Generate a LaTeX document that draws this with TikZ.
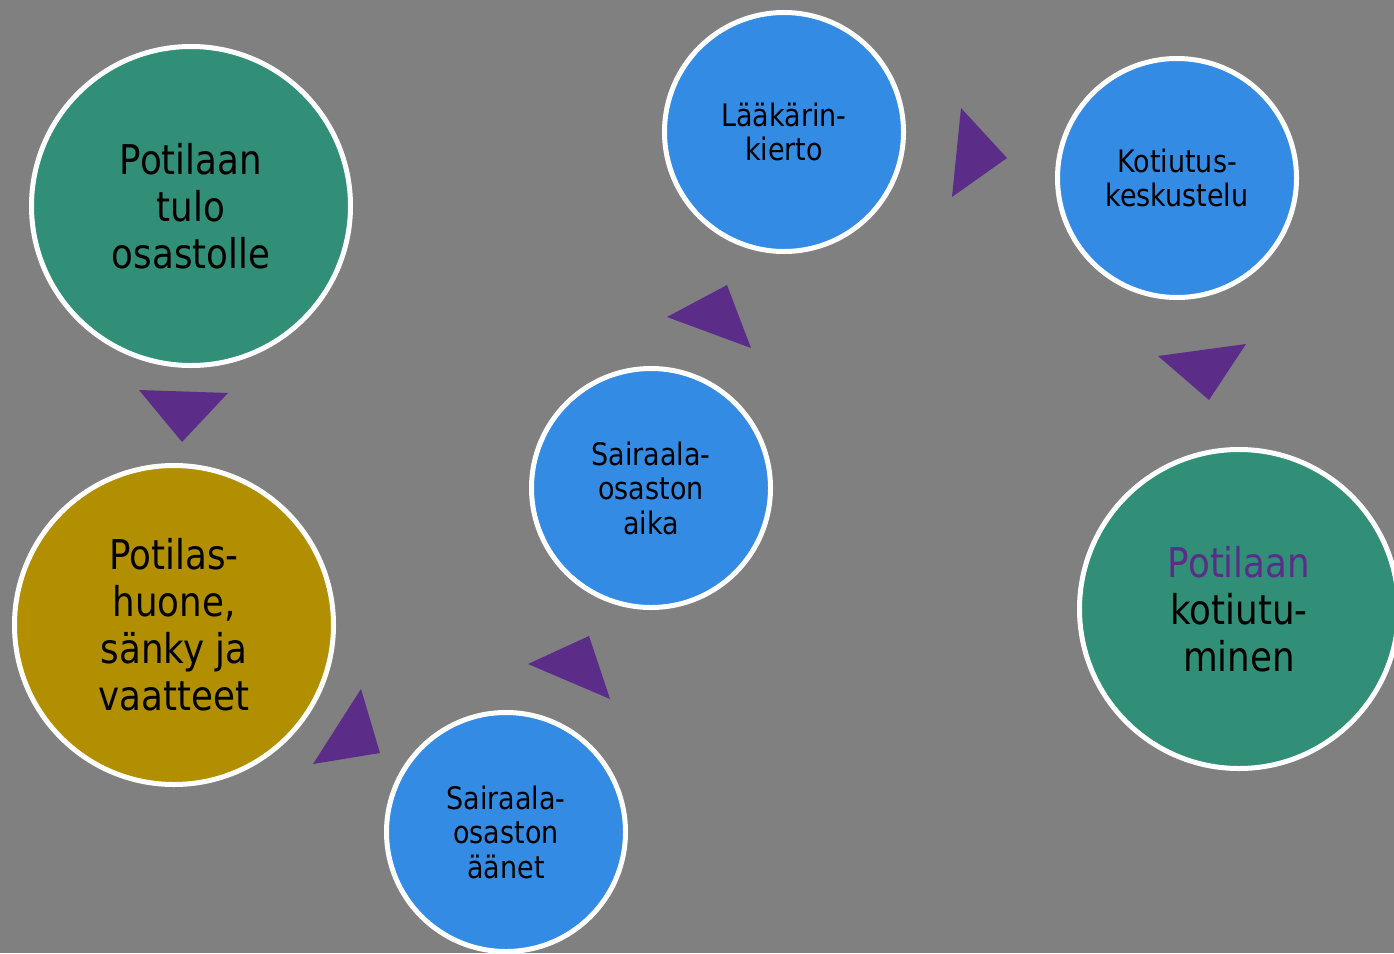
\documentclass[tikz,border=0pt]{standalone}
\usepackage{fontspec}
\setmainfont[FakeStretch=0.87]{DejaVu Sans}
\definecolor{bggray}{HTML}{808080}
\definecolor{tealgreen}{HTML}{318E77}
\definecolor{ochre}{HTML}{B28F00}
\definecolor{skyblue}{HTML}{348BE4}
\definecolor{violet}{HTML}{5B2D89}
\begin{document}
\begin{tikzpicture}[x=1pt,y=-1pt,
  bubble/.style={circle, draw=white, line width=5pt, inner sep=0pt, align=center, text=black},
  bigbubble/.style={bubble, minimum size=319pt, font=\fontsize{41}{47}\selectfont},
  smallbubble/.style={bubble, fill=skyblue, minimum size=239pt, font=\fontsize{31}{34.5}\selectfont},
  pointer/.style={fill=violet}]
  % canvas
  \useasboundingbox (0,0) rectangle (1394,953);
  \fill[bggray] (0,0) rectangle (1394,953);
  \clip (0,0) rectangle (1394,953);

  % stages
  \node[bigbubble, fill=tealgreen] (arrive) at (191,206) {Potilaan\\tulo\\osastolle};
  \node[bigbubble, fill=ochre] (room) at (174,625) {Potilas-\\huone,\\sänky ja\\vaatteet};
  \node[smallbubble] (sounds) at (506,832) {Sairaala-\\osaston\\äänet};
  \node[smallbubble] (time) at (651,488) {Sairaala-\\osaston\\aika};
  \node[smallbubble] (round) at (784,132) {Lääkärin-\\kierto};
  \node[smallbubble] (talk) at (1177,178) {Kotiutus-\\keskustelu};
  \node[bigbubble, fill=tealgreen] (home) at (1239,609) {{\color{violet}Potilaan}\\kotiutu-\\minen};

  % direction markers between stages
  \fill[pointer] (139,390) -- (228,393) -- (182,442) -- cycle;
  \fill[pointer] (361,689) -- (380,753) -- (313,764) -- cycle;
  \fill[pointer] (589,636) -- (610,699) -- (528,664) -- cycle;
  \fill[pointer] (727,285) -- (751,348) -- (667,317) -- cycle;
  \fill[pointer] (961,108) -- (1007,158) -- (952,197) -- cycle;
  \fill[pointer] (1158,356) -- (1246,344) -- (1209,400) -- cycle;
\end{tikzpicture}
\end{document}
